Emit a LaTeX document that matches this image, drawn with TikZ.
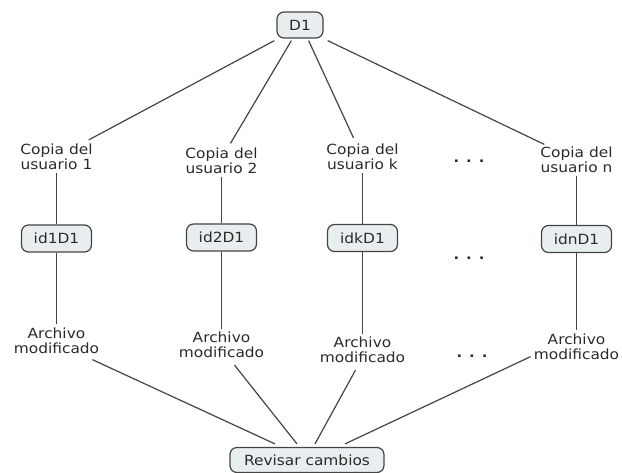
\documentclass[tikz,border=0pt]{standalone}
\usepackage{fontspec}
\setmainfont{DejaVu Sans}[FakeStretch=1.1]
\definecolor{ink}{HTML}{2A2A2A}
\definecolor{edge}{HTML}{444444}
\definecolor{boxfill}{HTML}{E8EEF0}
\begin{document}
\begin{tikzpicture}[x=1pt,y=-1pt,
  every node/.style={font=\fontsize{14}{15}\selectfont, text=ink},
  box/.style={draw=edge, line width=1.2pt, rounded corners=7pt, fill=boxfill,
    inner sep=0pt, minimum height=27pt},
  lbl/.style={align=center, inner sep=3pt},
  dots/.style={inner sep=0pt, font=\fontsize{13.5}{13.5}\selectfont\bfseries},
  link/.style={draw=edge, line width=1.2pt}]
\useasboundingbox (0,0) rectangle (622,473);

% source document and final review
\node[box, minimum width=46pt, minimum height=26pt] (d1) at (300,25) {D1};
\node[box, minimum width=154pt, minimum height=25pt] (rev) at (307,460) {Revisar cambios};

% user copies
\node[lbl] (c1) at (56.5,157) {Copia del\\usuario 1};
\node[lbl] (c2) at (221.5,160.5) {Copia del\\usuario 2};
\node[lbl] (ck) at (362.5,157) {Copia del\\usuario k};
\node[lbl] (cn) at (576.5,159.5) {Copia del\\usuario n};
\node[dots] (dc) at (469,161) {.\hspace{7pt}.\hspace{7pt}.};

% identifiers of each copy
\node[box, minimum width=70pt] (i1) at (56.5,238.5) {id1D1};
\node[box, minimum width=70pt] (i2) at (221.5,237.5) {id2D1};
\node[box, minimum width=70pt] (ik) at (362.5,238) {idkD1};
\node[box, minimum width=70pt] (in) at (576.5,239) {idnD1};
\node[dots] (di) at (469,258) {.\hspace{7pt}.\hspace{7pt}.};

% modified files
\node[lbl] (a1) at (56.5,340.5) {Archivo\\modificado};
\node[lbl] (a2) at (221.5,345) {Archivo\\modificado};
\node[lbl] (ak) at (362.5,350) {Archivo\\modificado};
\node[lbl] (an) at (576.5,346.5) {Archivo\\modificado};
\node[dots] (da) at (472,356) {.\hspace{7pt}.\hspace{7pt}.};

% from the source to each copy
\draw[link] ([shift={(-2,2)}]d1.south west) -- ([shift={(-7,-1)}]c1.north east);
\draw[link] ([shift={(15,2)}]d1.south west) -- ([shift={(9,-1)}]c2.north);
\draw[link] ([shift={(-15,2)}]d1.south east) -- ([shift={(-9,-3)}]ck.north);
\draw[link] ([shift={(4,2)}]d1.south east) -- ([shift={(7,1)}]cn.north west);

% copy -> identifier -> modified file
\foreach \u in {1,2,k,n}{
  \draw[link] (c\u) -- (i\u);
  \draw[link] (i\u) -- (a\u);
}

% every modified file goes to the review
\draw[link] ([shift={(-10,3)}]a1.south east) -- ([shift={(-32,-3)}]rev.north);
\draw[link] ([shift={(13,4)}]a2.south) -- ([shift={(-10,-3)}]rev.north);
\draw[link] ([shift={(-7,4)}]ak.south) -- ([shift={(8,-3)}]rev.north);
\draw[link] ([shift={(0,-6)}]an.south west) -- ([shift={(38,-3)}]rev.north);
\end{tikzpicture}
\end{document}
